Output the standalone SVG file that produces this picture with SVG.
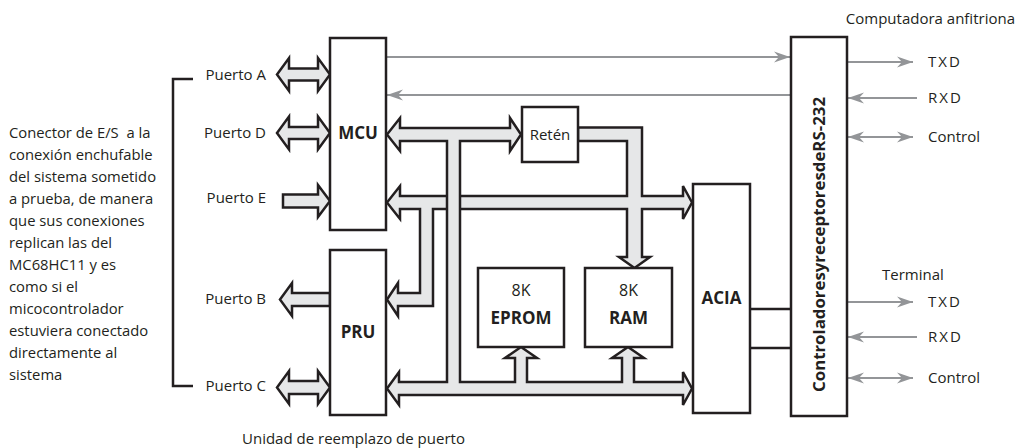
<svg xmlns="http://www.w3.org/2000/svg" width="1021" height="448" viewBox="0 0 1021 448">
<defs>
<style>
.bus{fill:#e6e7e8;stroke:#231f20;stroke-width:2.5;stroke-linejoin:miter}
.box{fill:#fff;stroke:#231f20;stroke-width:2.5}
.sig{stroke:#939598;stroke-width:2.2;fill:none}
.dk{stroke:#231f20;stroke-width:2.5;fill:none}
.t{font-family:"Open Sans","Noto Sans",sans-serif;font-size:15px;fill:#231f20}
.p{font-size:14.8px}
.b{font-family:"Open Sans","Noto Sans",sans-serif;font-size:17px;font-weight:bold;fill:#231f20}
.sp{letter-spacing:2px}
</style>
<marker id="ah" markerWidth="17" markerHeight="12" refX="16" refY="6" orient="auto-start-reverse" markerUnits="userSpaceOnUse">
<path d="M0,0.5 L16,6 L0,11.5 L5,6 z" fill="#939598"/>
</marker>
</defs>
<rect width="1021" height="448" fill="#fff"/>

<g id="connectors">
<path class="dk" d="M193,79 H173 V386 H193"/>
<polygon class="bus" points="277,74.5 289,58 289,68.5 318,68.5 318,58 330,74.5 318,91 318,80.5 289,80.5 289,91"/>
<polygon class="bus" points="277,133 289,116.5 289,127 318,127 318,116.5 330,133 318,149.5 318,139 289,139 289,149.5"/>
<polygon class="bus" points="283,194.5 318,194.5 318,185 330,201 318,217 318,207.5 283,207.5"/>
<polygon class="bus" points="280,299.5 292,283 292,293 330,293 330,306 292,306 292,316"/>
<polygon class="bus" points="277,387.5 289,371 289,381 318,381 318,371 330,387.5 318,404 318,394 289,394 289,404"/>
<polygon class="bus" points="387,202.5 400,186 400,196 627,196 627,141 578,141 578,127.5 642,127.5 642,196 683,196 683,186 692,202.5 683,219 683,209 642,209 642,257 650,257 634.5,268 619,257 627,257 627,209 433,209 433,306 398,306 398,316 387,299.5 398,283 398,293 420,293 420,209 400,209 400,219"/>
<polygon class="bus" points="387,134.5 400,118 400,128 510,128 510,118 521,134.5 510,151 510,141 460,141 460,382 515,382 515,358 505,358 521,347 537,358 527,358 527,382 622,382 622,358 612,358 628,347 644,358 634,358 634,382 683,382 683,372 692,388.5 683,405 683,395 399,395 399,405 387,388.5 399,372 399,382 447,382 447,141 400,141 400,151"/>
<line class="sig" x1="386" y1="57" x2="790" y2="57" marker-end="url(#ah)"/>
<line class="sig" x1="791" y1="95" x2="387" y2="95" marker-end="url(#ah)"/>
<line class="sig" x1="847" y1="62" x2="913" y2="62" marker-end="url(#ah)"/>
<line class="sig" x1="917" y1="98" x2="848" y2="98" marker-end="url(#ah)"/>
<line class="sig" x1="848" y1="137" x2="913" y2="137" marker-start="url(#ah)" marker-end="url(#ah)"/>
<line class="sig" x1="847" y1="302" x2="913" y2="302" marker-end="url(#ah)"/>
<line class="sig" x1="917" y1="337" x2="848" y2="337" marker-end="url(#ah)"/>
<line class="sig" x1="848" y1="378" x2="913" y2="378" marker-start="url(#ah)" marker-end="url(#ah)"/>
<line class="dk" x1="750" y1="309" x2="791" y2="309"/>
<line class="dk" x1="750" y1="348" x2="791" y2="348"/>
</g>

<g id="mcu">
<rect class="box" x="330" y="38" width="56" height="192"/>
<text class="b" x="358" y="139" text-anchor="middle">MCU</text>
</g>
<g id="pru">
<rect class="box" x="330" y="250" width="56" height="165"/>
<text class="b" x="358" y="338" text-anchor="middle">PRU</text>
</g>
<g id="reten">
<rect class="box" x="522" y="107" width="56" height="55"/>
<text class="t" x="550" y="140" text-anchor="middle">Retén</text>
</g>
<g id="eprom">
<rect class="box" x="478" y="268" width="86" height="79"/>
<text class="t" x="521" y="296" text-anchor="middle" style="font-size:16px">8K</text>
<text class="b" x="521" y="324" text-anchor="middle">EPROM</text>
</g>
<g id="ram">
<rect class="box" x="585" y="268" width="87" height="79"/>
<text class="t" x="628.5" y="296" text-anchor="middle" style="font-size:16px">8K</text>
<text class="b" x="628.5" y="324" text-anchor="middle">RAM</text>
</g>
<g id="acia">
<rect class="box" x="693" y="184" width="57" height="229"/>
<text class="b" x="721.5" y="304" text-anchor="middle">ACIA</text>
</g>
<g id="rs232">
<rect class="box" x="791" y="37" width="56" height="379"/>
<text class="b" transform="translate(825,244.5) rotate(-90)" text-anchor="middle" textLength="295" lengthAdjust="spacingAndGlyphs" style="font-size:16px">ControladoresyreceptoresdeRS-232</text>
</g>

<g id="labels">
<text class="t" x="266" y="79.5" text-anchor="end">Puerto A</text>
<text class="t" x="266" y="138" text-anchor="end">Puerto D</text>
<text class="t" x="266" y="203" text-anchor="end">Puerto E</text>
<text class="t" x="266" y="304" text-anchor="end">Puerto B</text>
<text class="t" x="266" y="391" text-anchor="end">Puerto C</text>
<text class="t p" x="9" y="138" xml:space="preserve"><tspan x="9">Conector de E/S  a la</tspan><tspan x="9" dy="22">conexión enchufable</tspan><tspan x="9" dy="22">del sistema sometido</tspan><tspan x="9" dy="22">a prueba, de manera</tspan><tspan x="9" dy="22">que sus conexiones</tspan><tspan x="9" dy="22">replican las del</tspan><tspan x="9" dy="22">MC68HC11 y es</tspan><tspan x="9" dy="22">como si el</tspan><tspan x="9" dy="22">micocontrolador</tspan><tspan x="9" dy="22">estuviera conectado</tspan><tspan x="9" dy="22">directamente al</tspan><tspan x="9" dy="22">sistema</tspan></text>
<text class="t" x="242" y="444">Unidad de reemplazo de puerto</text>
<text class="t" x="1015" y="24" text-anchor="end">Computadora anfitriona</text>
<text class="t" x="882" y="280">Terminal</text>
<text class="t sp" x="928" y="67">TXD</text>
<text class="t sp" x="928" y="103">RXD</text>
<text class="t" x="928" y="142">Control</text>
<text class="t sp" x="928" y="307">TXD</text>
<text class="t sp" x="928" y="342">RXD</text>
<text class="t" x="928" y="383">Control</text>
</g>
</svg>
